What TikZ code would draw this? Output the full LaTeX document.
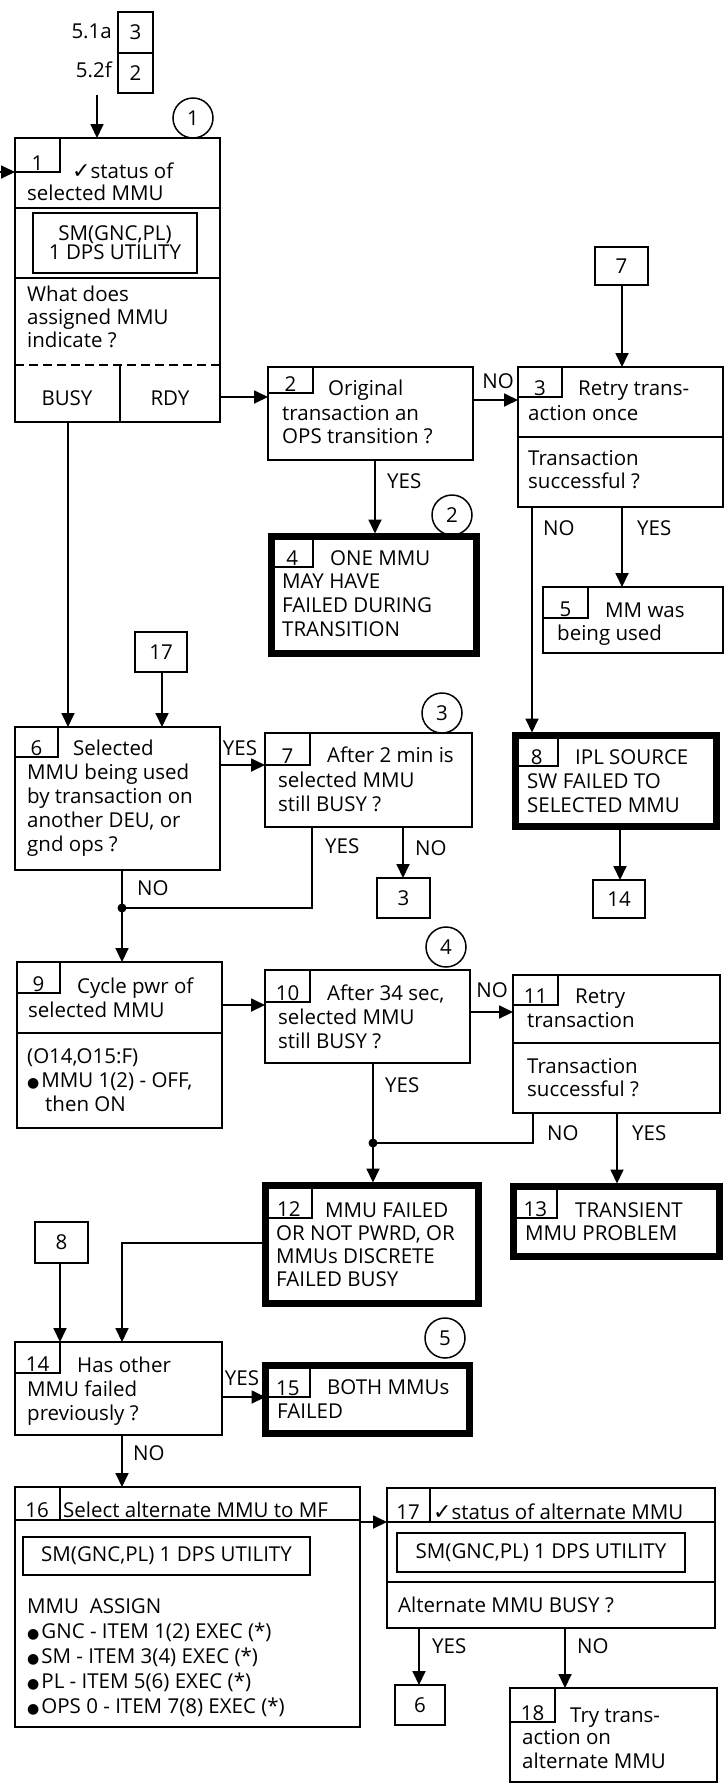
\documentclass[tikz,border=0pt]{standalone}
\usepackage{fontspec}
\setmainfont{Open Sans}
\newfontfamily\sym{DejaVu Sans}
\usetikzlibrary{arrows.meta}
\tikzset{
  ln/.style={line width=1.8pt},
  box/.style={draw, line width=1.8pt, inner sep=0pt, outer sep=0pt, anchor=north west},
  tbox/.style={draw, line width=7pt, inner sep=0pt, outer sep=0pt, anchor=north west},
  arr/.style={line width=1.8pt, -{Triangle[length=14pt,width=13pt]}},
  txt/.style={inner sep=0pt, anchor=base west, font=\fontsize{20.5}{24}\selectfont},
  lbl/.style={inner sep=0pt, anchor=base west, font=\fontsize{20.5}{24}\selectfont},
  num/.style={inner sep=0pt, font=\fontsize{20.5}{24}\selectfont},
  circ/.style={draw, circle, line width=1.5pt, minimum size=40pt, inner sep=0pt, font=\fontsize{20.5}{24}\selectfont},
  jdot/.style={circle, fill, inner sep=0pt, minimum size=9pt},
}
% multi-line text whose baseline is its first line
\newcommand\ml[1]{\begin{tabular}[t]{@{}l@{}}#1\end{tabular}}
% box: style, name, x1, y1, x2, y2
\newcommand\bx[6]{\node[#1, minimum width={#5pt-#3pt}, minimum height={#6pt-#4pt}] (#2) at (#3,#4) {};}
% reference box with text
\newcommand\rb[6]{\node[box, minimum width={#5pt-#3pt}, minimum height={#6pt-#4pt}] (#2) at (#3,#4) {};
  \node[num] (#2t) at (#2.center) {#1};}
% tab: node, tab right x, tab bottom y, number
\newcommand\tb[4]{\draw[ln] (#1.west |- 0,#3) -| (#1.north -| #2,0);
  \path (#1.west |- 0,#3) -- (#2,#3) node[midway, anchor=base, yshift=2pt, num] (#1n) {#4};}
\newcommand\bul{{\sym\fontsize{14}{14}\selectfont ●}\hspace{2pt}}
\newcommand\chk{{\sym\fontsize{22}{22}\selectfont ✓}}
\begin{document}
\begin{tikzpicture}[x=1pt, y=-1pt]
\useasboundingbox (0,0) rectangle (727,1789);

% top references
\rb{3}{ra}{118}{12}{153}{53}
\rb{2}{rb}{118}{53}{153}{93}
\node[num, anchor=base east] (la) at (112,38) {5.1a};
\node[num, anchor=base east] (lb) at (112,77) {5.2f};

% ---- box 1
\bx{box}{b1}{15}{138}{220}{422}
\tb{b1}{60}{172}{1}
\node[txt] (b1a) at (72,178) {\chk status of};
\node[txt] (b1a2) at (27,200) {selected MMU};
\draw[ln] (b1.west |- 0,208) -- (b1.east |- 0,208);
\bx{box}{b1i}{33}{213}{197}{273}
\node[num, align=center, font=\fontsize{20.5}{19}\selectfont] (b1it) at (b1i.center) {SM(GNC,PL)\\1 DPS UTILITY};
\draw[ln] (b1.west |- 0,278) -- (b1.east |- 0,278);
\node[txt, font=\fontsize{20.5}{23}\selectfont] (b1b) at (27,301) {\ml{What does\\assigned MMU\\indicate ?}};
\draw[ln, dash pattern=on 9pt off 5pt] (b1.west |- 0,365) -- (b1.east |- 0,365);
\draw[ln] (120,365) -- (b1.south -| 120,0);
\node[num, anchor=base] (busy) at (67,405) {BUSY};
\node[num, anchor=base] (rdy) at (170,405) {RDY};
\node[circ] (c1) at (193,118) {1};
\coordinate (topin) at (97,95);
\coordinate (leftin) at (0,172);
\draw[arr] (topin) -- (b1.north -| topin);
\draw[arr] (leftin) -- (b1.west |- leftin);

% ---- box 2
\bx{box}{b2}{268}{367}{473}{460}
\tb{b2}{313}{393}{2}
\node[txt] (b2a) at (328,395) {Original};
\node[txt, font=\fontsize{20.5}{23}\selectfont] (b2b) at (282,420) {\ml{transaction an\\OPS transition ?}};
\draw[arr] (b1.east |- 0,397) -- (b2.west |- 0,397);

% ---- box 3
\rb{7}{r7}{595}{247}{648}{285}
\bx{box}{b3}{518}{367}{723}{507}
\tb{b3}{562}{397}{3}
\node[txt] (b3a) at (578,395) {Retry trans-};
\node[txt] (b3b) at (528,420) {action once};
\draw[ln] (b3.west |- 0,437) -- (b3.east |- 0,437);
\node[txt, font=\fontsize{20.5}{23}\selectfont] (b3c) at (528,465) {\ml{Transaction\\successful ?}};
\draw[arr] (r7.south -| 622,0) -- (b3.north -| 622,0);
\draw[arr] (b2.east |- 0,400) -- (b3.west |- 0,400);
\node[num, anchor=base] (l23) at (498,388) {NO};

% ---- box 4
\bx{tbox}{b4}{271.5}{536.5}{476.5}{653.5}
\tb{b4}{313}{567}{4}
\node[txt] (b4a) at (330,565) {ONE MMU};
\node[txt] (b4b) at (282,588) {\ml{MAY HAVE\\FAILED DURING\\TRANSITION}};
\node[circ] (c2) at (452,515) {2};
\draw[arr, shorten >=3pt] (b2.south -| 375,0) -- (b4.north -| 375,0);
\node[lbl] (l24) at (387,488) {YES};

% ---- box 5
\bx{box}{b5}{543}{587}{723}{653}
\tb{b5}{588}{618}{5}
\node[txt] (b5a) at (605,617) {MM was};
\node[txt] (b5b) at (557,640) {being used};
\draw[arr] (b3.south -| 622,0) -- (b5.north -| 622,0);
\node[lbl] (l35) at (637,535) {YES};

% ---- box 8
\bx{tbox}{b8}{515.5}{735.5}{716.5}{826.5}
\tb{b8}{558}{766}{8}
\node[txt] (b8a) at (575,764) {IPL SOURCE};
\node[txt] (b8b) at (527,788) {\ml{SW FAILED TO\\SELECTED MMU}};
\draw[arr, shorten >=3pt] (b3.south -| 532,0) -- (b8.north -| 532,0);
\node[lbl] (l38) at (543,535) {NO};
\rb{14}{r14}{593}{880}{645}{918}
\draw[arr, shorten <=3pt] (b8.south -| 620,0) -- (r14.north -| 620,0);

% ---- box 6
\rb{17}{r17}{135}{632}{187}{672}
\bx{box}{b6}{15}{727}{220}{870}
\tb{b6}{58}{757}{6}
\node[txt] (b6a) at (73,755) {Selected};
\node[txt] (b6b) at (27,779) {\ml{MMU being used\\by transaction on\\another DEU, or\\gnd ops ?}};
\draw[arr] (b1.south -| 68,0) -- (b6.north -| 68,0);
\draw[arr] (r17.south -| 162,0) -- (b6.north -| 162,0);

% ---- box 7
\bx{box}{b7}{265}{733}{472}{827}
\tb{b7}{310}{765}{7}
\node[txt] (b7a) at (327,762) {After 2 min is};
\node[txt] (b7b) at (278,787) {\ml{selected MMU\\still BUSY ?}};
\node[circ] (c3) at (442,713) {3};
\draw[arr] (b6.east |- 0,765) -- (b7.west |- 0,765);
\node[num, anchor=base] (l67) at (240,755) {YES};
\rb{3}{r3}{377}{878}{430}{918}
\draw[arr] (b7.south -| 403,0) -- (r3.north -| 403,0);
\node[lbl] (l73) at (415,855) {NO};
\coordinate (j1) at (122,908);
\draw[ln] (b7.south -| 312,0) |- (j1);
\node[lbl] (l7y) at (325,853) {YES};

% ---- box 9
\bx{box}{b9}{17}{962}{222}{1128}
\tb{b9}{60}{993}{9}
\node[txt] (b9a) at (77,993) {Cycle pwr of};
\node[txt] (b9b) at (28,1017) {selected MMU};
\draw[ln] (b9.west |- 0,1033) -- (b9.east |- 0,1033);
\node[txt] (b9c) at (27,1063) {\ml{(O14,O15:F)\\\bul MMU 1(2) - OFF,\\\hspace{18pt}then ON}};
\draw[arr] (b6.south -| j1) -- (b9.north -| j1);
\node[jdot] (j1d) at (j1) {};
\node[lbl] (l69) at (137,895) {NO};

% ---- box 10
\bx{box}{b10}{265}{970}{470}{1063}
\tb{b10}{310}{1002}{10}
\node[txt] (b10a) at (327,1000) {After 34 sec,};
\node[txt] (b10b) at (278,1024) {\ml{selected MMU\\still BUSY ?}};
\node[circ] (c4) at (446,947) {4};
\draw[arr] (b9.east |- 0,1005) -- (b10.west |- 0,1005);

% ---- box 11
\bx{box}{b11}{513}{975}{720}{1113}
\tb{b11}{558}{1005}{11}
\node[txt] (b11a) at (575,1003) {Retry};
\node[txt] (b11b) at (527,1027) {transaction};
\draw[ln] (b11.west |- 0,1043) -- (b11.east |- 0,1043);
\node[txt, font=\fontsize{20.5}{23}\selectfont] (b11c) at (527,1073) {\ml{Transaction\\successful ?}};
\draw[arr] (b10.east |- 0,1012) -- (b11.west |- 0,1012);
\node[num, anchor=base] (l1011) at (492,997) {NO};

% ---- box 12, 13
\bx{tbox}{b12}{265.5}{1185.5}{478.5}{1303.5}
\tb{b12}{312}{1218}{12}
\node[txt] (b12a) at (325,1217) {MMU FAILED};
\node[txt, font=\fontsize{20.5}{23.3}\selectfont] (b12b) at (276,1240) {\ml{OR NOT PWRD, OR\\MMUs DISCRETE\\FAILED BUSY}};
\bx{tbox}{b13}{513.5}{1186.5}{719.5}{1256.5}
\tb{b13}{557}{1218}{13}
\node[txt] (b13a) at (575,1217) {TRANSIENT};
\node[txt] (b13b) at (525,1240) {MMU PROBLEM};
\coordinate (j2) at (373,1143);
\draw[arr, shorten >=3pt] (b10.south -| j2) -- (b12.north -| j2);
\node[jdot] (j2d) at (j2) {};
\draw[ln] (b11.south -| 533,0) |- (j2);
\draw[arr, shorten >=3pt] (b11.south -| 617,0) -- (b13.north -| 617,0);
\node[lbl] (l1012) at (385,1092) {YES};
\node[lbl] (l11n) at (547,1140) {NO};
\node[lbl] (l11y) at (632,1140) {YES};

% ---- box 14
\rb{8}{r8}{35}{1222}{88}{1263}
\bx{box}{b14}{15}{1342}{222}{1435}
\tb{b14}{60}{1373}{14}
\node[txt] (b14a) at (77,1372) {Has other};
\node[txt] (b14b) at (27,1396) {\ml{MMU failed\\previously ?}};
\draw[arr] (b12.west |- 0,1243) -| (b14.north -| 122,0);
\draw[arr] (r8.south -| 60,0) -- (b14.north -| 60,0);

% ---- box 15
\bx{tbox}{b15}{265.5}{1365.5}{469.5}{1433.5}
\tb{b15}{310}{1397}{15}
\node[txt] (b15a) at (327,1394) {BOTH MMUs};
\node[txt] (b15b) at (277,1418) {FAILED};
\node[circ] (c5) at (445,1338) {5};
\draw[arr] (b14.east |- 0,1397) -- (b15.west |- 0,1397);
\node[num, anchor=base] (l1415) at (242,1385) {YES};

% ---- box 16
\bx{box}{b16}{15}{1487}{360}{1727}
\draw[ln] (60,1487) -- (60,1520);
\node[num, anchor=base] (b16n) at (37,1517) {16};
\node[txt] (b16a) at (63,1517) {Select alternate MMU to MF};
\draw[ln] (b16.west |- 0,1520) -- (b16.east |- 0,1520);
\bx{box}{b16i}{23}{1537}{310}{1575}
\node[num] (b16it) at (b16i.center) {SM(GNC,PL) 1 DPS UTILITY};
\node[txt] (b16b) at (27,1613) {\ml{MMU\ \ ASSIGN\\[1pt]\bul GNC - ITEM\ 1(2)\ EXEC\ (*)\\[1pt]\bul SM - ITEM\ 3(4)\ EXEC\ (*)\\[1pt]\bul PL - ITEM\ 5(6)\ EXEC\ (*)\\[1pt]\bul OPS\ 0 - ITEM\ 7(8)\ EXEC\ (*)}};
\draw[arr] (b14.south -| 122,0) -- (b16.north -| 122,0);
\node[lbl] (l1416) at (133,1460) {NO};

% ---- box 17
\bx{box}{b17}{387}{1488}{715}{1628}
\draw[ln] (430,1488) -- (430,1522);
\node[num, anchor=base] (b17n) at (408,1519) {17};
\node[txt] (b17a) at (433,1519) {\chk status of alternate MMU};
\draw[ln] (b17.west |- 0,1522) -- (b17.east |- 0,1522);
\bx{box}{b17i}{397}{1533}{685}{1572}
\node[num] (b17it) at (b17i.center) {SM(GNC,PL) 1 DPS UTILITY};
\draw[ln] (b17.west |- 0,1582) -- (b17.east |- 0,1582);
\node[txt] (b17b) at (398,1612) {Alternate MMU BUSY ?};
\draw[arr] (b16.east |- 0,1522) -- (b17.west |- 0,1522);

% ---- box 6 ref, box 18
\rb{6}{r6}{395}{1685}{445}{1725}
\draw[arr] (b17.south -| 419,0) -- (r6.north -| 419,0);
\node[lbl] (l176) at (432,1653) {YES};
\bx{box}{b18}{510}{1688}{717}{1782}
\tb{b18}{555}{1722}{18}
\node[txt] (b18a) at (570,1722) {Try trans-};
\node[txt] (b18b) at (522,1744) {\ml{action on\\alternate MMU}};
\draw[arr] (b17.south -| 565,0) -- (b18.north -| 565,0);
\node[lbl] (l1718) at (577,1653) {NO};
\end{tikzpicture}
\end{document}
